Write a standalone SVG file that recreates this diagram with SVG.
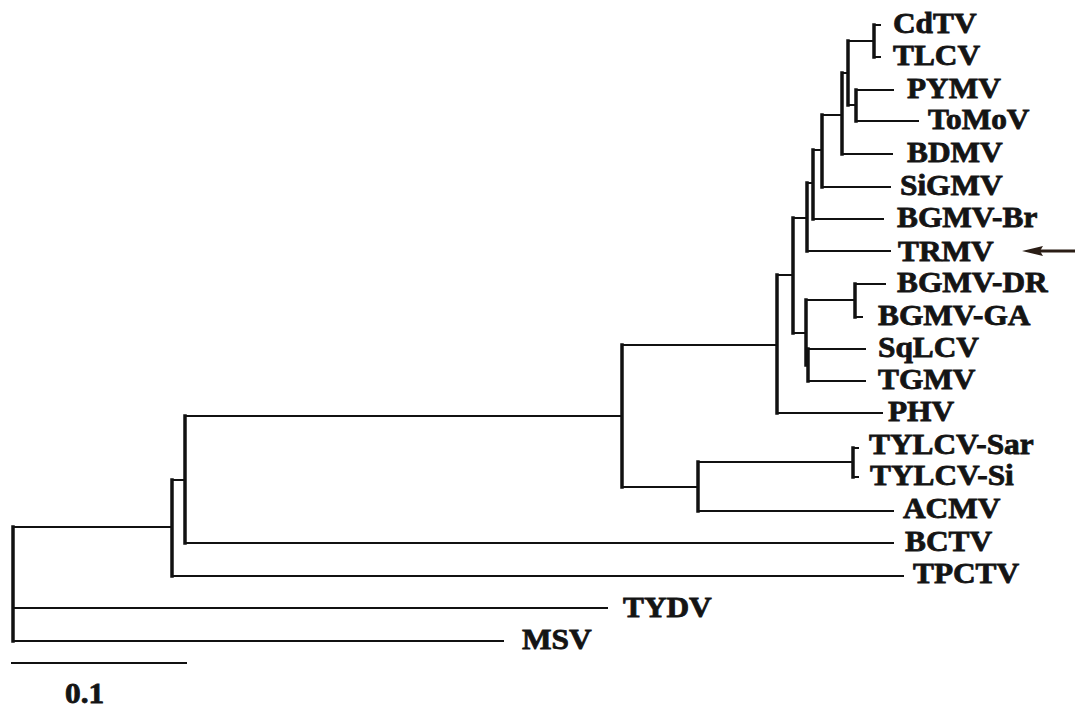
<svg xmlns="http://www.w3.org/2000/svg" width="1075" height="709" viewBox="0 0 1075 709">
  <style>
    .h { stroke: #111; stroke-width: 2; fill: none; stroke-linecap: square; }
    .v { stroke: #111; stroke-width: 3.5; fill: none; stroke-linecap: square; }
    .lbl { font-family: "Liberation Serif", "Times New Roman", serif; font-weight: bold; font-size: 29px; fill: #141414; stroke: #141414; stroke-width: 0.8; }
  </style>
  <rect width="1075" height="709" fill="#ffffff"/>

  <!-- branches of the tree -->
  <g id="branches">
    <!-- root -->
    <path class="v" d="M13 527 V641"/>
    <path class="h" d="M13 527 H172 M13 608 H607 M13 641 H503"/>
    <!-- TPCTV split -->
    <path class="v" d="M172 480 V576"/>
    <path class="h" d="M172 480 H185 M172 576 H903"/>
    <!-- BCTV split -->
    <path class="v" d="M185 416 V543"/>
    <path class="h" d="M185 416 H622 M185 543 H893"/>
    <!-- begomovirus / TYLCV-ACMV split -->
    <path class="v" d="M622 345 V487"/>
    <path class="h" d="M622 345 H777 M622 487 H698"/>
    <path class="v" d="M698 462 V511"/>
    <path class="h" d="M698 462 H853 M698 511 H893"/>
    <path class="v" d="M853 448 V477"/>
    <path class="h" d="M853 448 H858 M853 477 H858"/>
    <!-- New World clade -->
    <path class="v" d="M777 275 V413"/>
    <path class="h" d="M777 275 H793 M777 413 H882"/>
    <path class="v" d="M793 218 V333"/>
    <path class="h" d="M793 218 H807 M793 333 H806"/>
    <path class="v" d="M806 300 V365"/>
    <path class="h" d="M806 300 H855 M806 365 H808"/>
    <path class="v" d="M855 284 V317"/>
    <path class="h" d="M855 284 H885 M855 317 H862"/>
    <path class="v" d="M808 349 V381"/>
    <path class="h" d="M808 349 H865 M808 381 H865"/>
    <path class="v" d="M807 183 V251"/>
    <path class="h" d="M807 183 H813 M807 251 H890"/>
    <path class="v" d="M813 150 V219"/>
    <path class="h" d="M813 150 H822 M813 219 H883"/>
    <path class="v" d="M822 115 V187"/>
    <path class="h" d="M822 115 H842 M822 187 H890"/>
    <path class="v" d="M842 73 V154"/>
    <path class="h" d="M842 73 H848 M842 154 H892"/>
    <path class="v" d="M848 41 V105"/>
    <path class="h" d="M848 41 H874 M848 105 H856"/>
    <path class="v" d="M874 25 V57"/>
    <path class="h" d="M874 25 H880 M874 57 H880"/>
    <path class="v" d="M856 90 V121"/>
    <path class="h" d="M856 90 H893 M856 121 H918"/>
    <!-- pointer to TRMV -->
    <path d="M1038 251 H1075" stroke="#2a1d15" stroke-width="3"/>
    <path d="M1022 251 L1043 246 L1040 251 L1043 256 Z" fill="#2a1d15"/>
  </g>

  <!-- taxa (labels set slightly wide) -->
  <g id="CdTV"><text class="lbl" transform="translate(893 33) scale(1.08 1)">CdTV</text></g>
  <g id="TLCV"><text class="lbl" transform="translate(893 65) scale(1.08 1)">TLCV</text></g>
  <g id="PYMV"><text class="lbl" transform="translate(907 98) scale(1.08 1)">PYMV</text></g>
  <g id="ToMoV"><text class="lbl" transform="translate(928 129) scale(1.08 1)">ToMoV</text></g>
  <g id="BDMV"><text class="lbl" transform="translate(907 162) scale(1.08 1)">BDMV</text></g>
  <g id="SiGMV"><text class="lbl" transform="translate(900 195) scale(1.08 1)">SiGMV</text></g>
  <g id="BGMV-Br"><text class="lbl" transform="translate(897 227) scale(1.08 1)">BGMV-Br</text></g>
  <g id="TRMV"><text class="lbl" transform="translate(898 261) scale(1.08 1)">TRMV</text></g>
  <g id="BGMV-DR"><text class="lbl" transform="translate(897 292) scale(1.08 1)">BGMV-DR</text></g>
  <g id="BGMV-GA"><text class="lbl" transform="translate(878 325) scale(1.08 1)">BGMV-GA</text></g>
  <g id="SqLCV"><text class="lbl" transform="translate(878 357) scale(1.08 1)">SqLCV</text></g>
  <g id="TGMV"><text class="lbl" transform="translate(878 389) scale(1.08 1)">TGMV</text></g>
  <g id="PHV"><text class="lbl" transform="translate(888 421) scale(1.08 1)">PHV</text></g>
  <g id="TYLCV-Sar"><text class="lbl" transform="translate(869 454) scale(1.08 1)">TYLCV-Sar</text></g>
  <g id="TYLCV-Si"><text class="lbl" transform="translate(870 485) scale(1.08 1)">TYLCV-Si</text></g>
  <g id="ACMV"><text class="lbl" transform="translate(903 518) scale(1.08 1)">ACMV</text></g>
  <g id="BCTV"><text class="lbl" transform="translate(905 551) scale(1.08 1)">BCTV</text></g>
  <g id="TPCTV"><text class="lbl" transform="translate(913 583) scale(1.08 1)">TPCTV</text></g>
  <g id="TYDV"><text class="lbl" transform="translate(623 617) scale(1.08 1)">TYDV</text></g>
  <g id="MSV"><text class="lbl" transform="translate(522 649) scale(1.08 1)">MSV</text></g>

  <!-- scale bar -->
  <g id="scale">
    <path class="h" d="M12 663 H186"/>
    <text class="lbl" transform="translate(65 703) scale(1.08 1)">0.1</text>
  </g>
</svg>
